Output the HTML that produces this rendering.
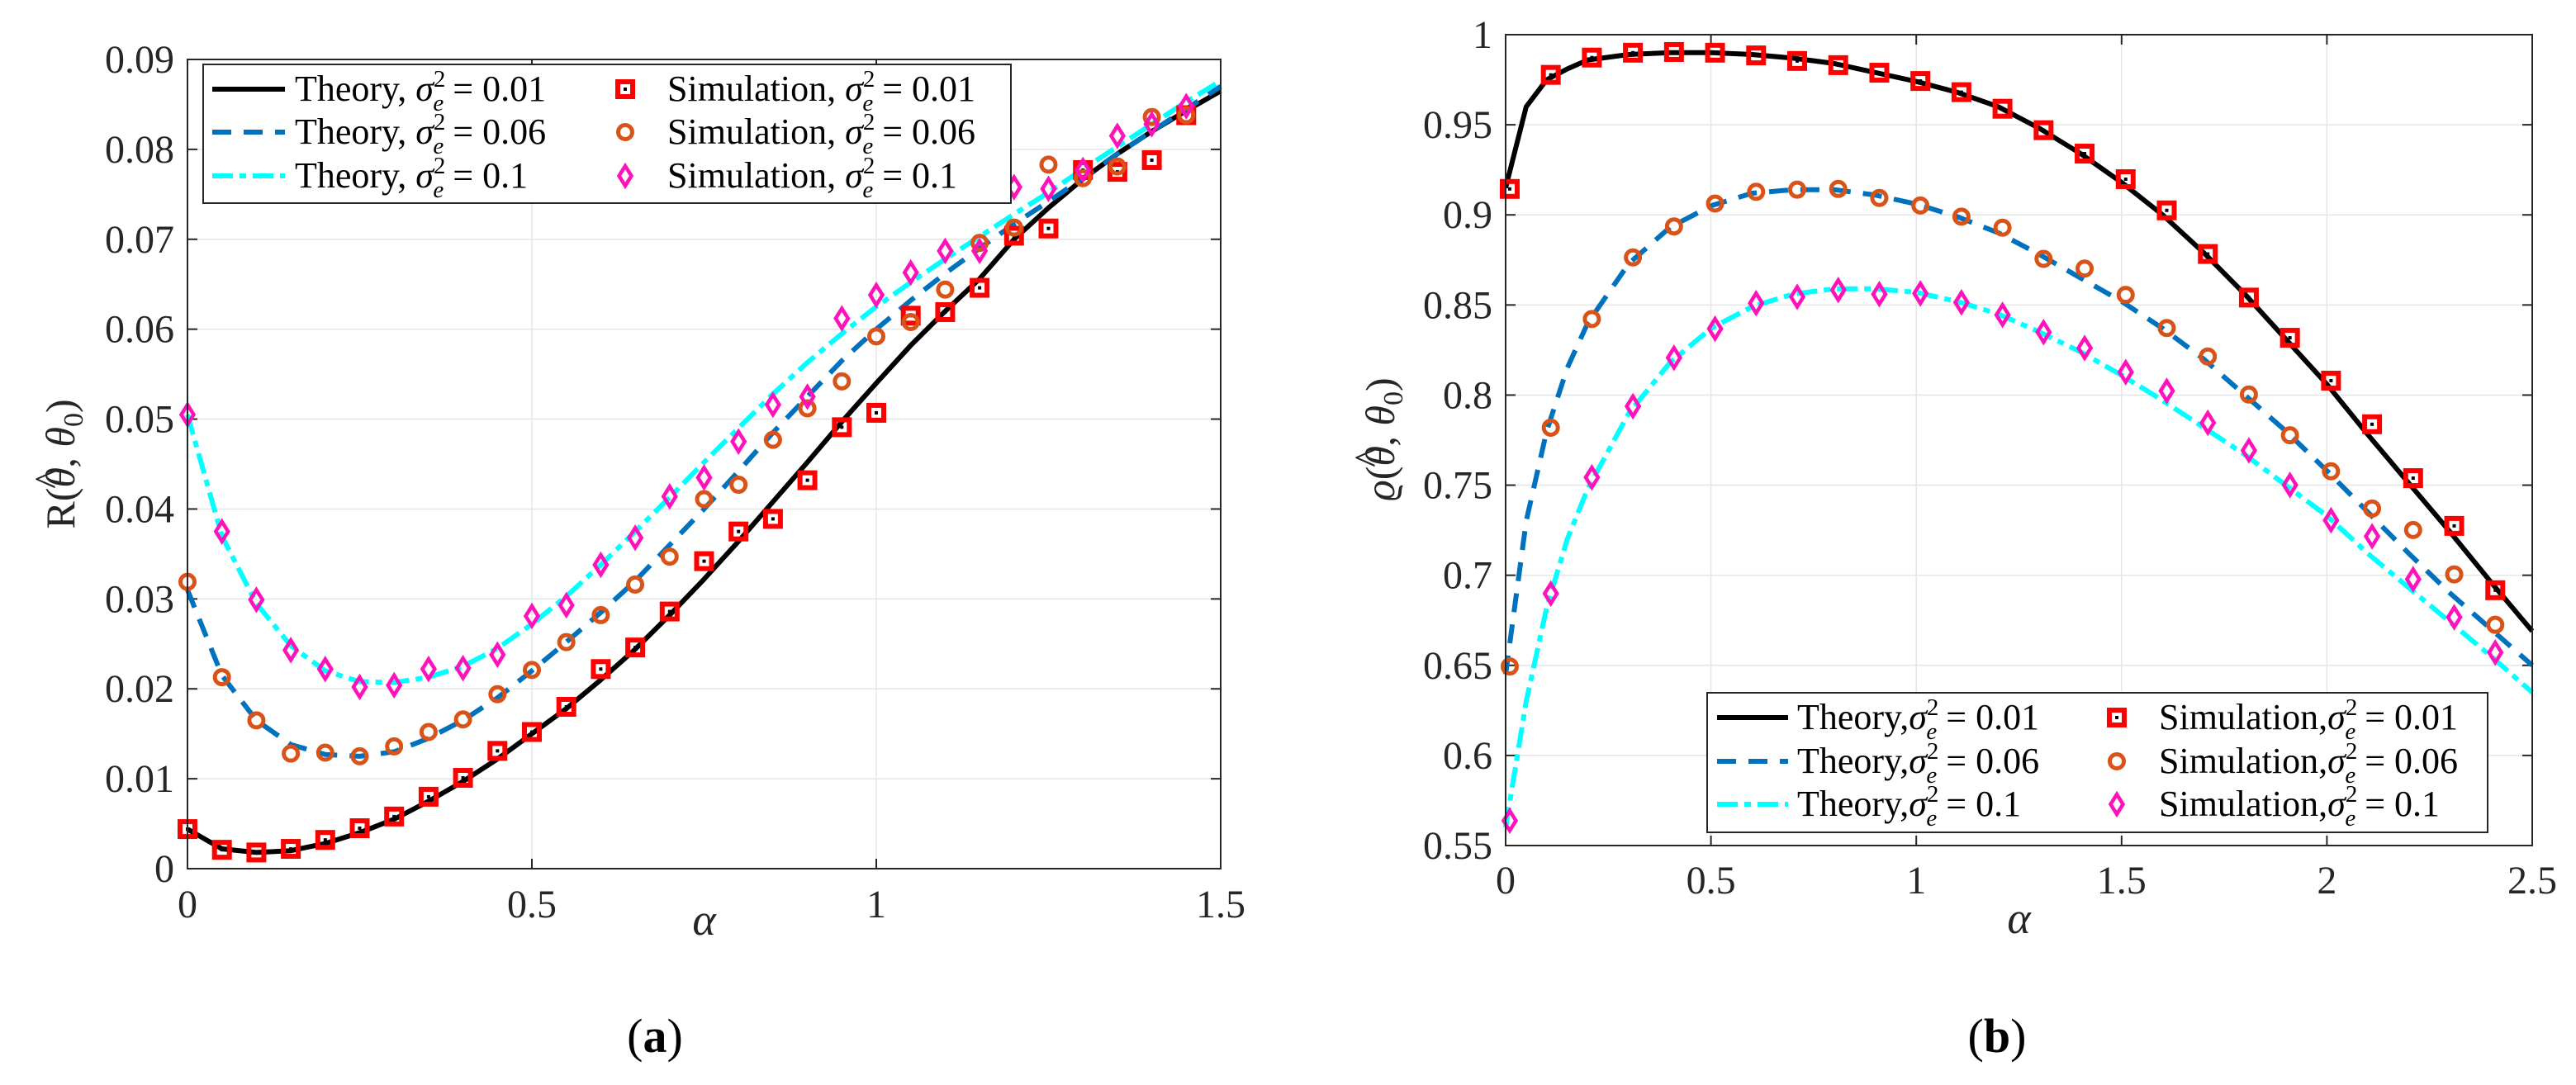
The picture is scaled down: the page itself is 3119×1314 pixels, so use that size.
<!DOCTYPE html>
<html><head><meta charset="utf-8"><style>
html,body{margin:0;padding:0;background:#fff;}
svg{display:block;}
svg text{font-family:"Liberation Serif","DejaVu Serif",serif;}
</style></head><body>
<svg id="fig" width="3119" height="1314" viewBox="0 0 3119 1314" xmlns="http://www.w3.org/2000/svg" font-family="Liberation Serif, serif"></svg>
<script>
// ---------- Panel (a) data ----------
const aSimX = [0,0.05,0.1,0.15,0.2,0.25,0.3,0.35,0.4,0.45,0.5,0.55,0.6,0.65,0.7,0.75,0.8,0.85,0.9,0.95,1.0,1.05,1.1,1.15,1.2,1.25,1.3,1.35,1.4,1.45];
const aSim001 = [0.0044,0.0021,0.0018,0.0022,0.0032,0.0045,0.0058,0.008,0.0101,0.0131,0.0152,0.018,0.0222,0.0246,0.0286,0.0342,0.0375,0.0389,0.0432,0.0491,0.0507,0.0615,0.0619,0.0646,0.0704,0.0712,0.0777,0.0775,0.0788,0.0838];
const aSim006 = [0.0319,0.0213,0.0165,0.0128,0.0129,0.0125,0.0136,0.0152,0.0166,0.0194,0.0221,0.0252,0.0282,0.0316,0.0347,0.0411,0.0427,0.0477,0.0512,0.0542,0.0592,0.0608,0.0644,0.0696,0.0713,0.0783,0.0768,0.0781,0.0836,0.0838];
const aSim01 = [0.0505,0.0375,0.0299,0.0243,0.0222,0.0202,0.0204,0.0222,0.0223,0.0238,0.0281,0.0293,0.0338,0.0368,0.0414,0.0435,0.0475,0.0516,0.0525,0.0612,0.0638,0.0663,0.0687,0.0687,0.0758,0.0756,0.0777,0.0815,0.0828,0.0848];
const aThX = [0,0.05,0.1,0.15,0.2,0.25,0.3,0.35,0.4,0.45,0.5,0.55,0.6,0.65,0.7,0.75,0.8,0.85,0.9,0.95,1.0,1.05,1.1,1.15,1.2,1.25,1.3,1.35,1.4,1.45,1.5];
const aTh001 = [0.0044,0.0022,0.0018,0.002,0.0028,0.004,0.0055,0.0075,0.0097,0.0122,0.015,0.0178,0.021,0.0244,0.0282,0.0322,0.0364,0.0408,0.0452,0.0497,0.054,0.0582,0.062,0.0656,0.070,0.0735,0.0767,0.0795,0.082,0.0843,0.0865];
const aTh006 = [0.031,0.0215,0.0165,0.0138,0.0127,0.0125,0.013,0.0145,0.0165,0.019,0.022,0.0252,0.0285,0.032,0.036,0.040,0.0442,0.0485,0.0525,0.0565,0.06,0.0632,0.0662,0.069,0.0717,0.0742,0.0768,0.0795,0.082,0.0845,0.087];
const aTh01 = [0.0505,0.037,0.0295,0.0248,0.022,0.0208,0.0207,0.0213,0.0225,0.0245,0.0272,0.0303,0.0338,0.0375,0.0413,0.0452,0.049,0.0528,0.0563,0.0595,0.0625,0.0652,0.0678,0.0703,0.0728,0.0752,0.0778,0.0803,0.0828,0.0853,0.0876];
const aXTicks = [0,0.5,1,1.5];
const aXTickLabels = ["0","0.5","1","1.5"];
const aYTicks = [0,0.01,0.02,0.03,0.04,0.05,0.06,0.07,0.08,0.09];
const aYTickLabels = ["0","0.01","0.02","0.03","0.04","0.05","0.06","0.07","0.08","0.09"];
// ---------- Panel (b) data ----------
const bSimX = [0.01,0.11,0.21,0.31,0.41,0.51,0.61,0.71,0.81,0.91,1.01,1.11,1.21,1.31,1.41,1.51,1.61,1.71,1.81,1.91,2.01,2.11,2.21,2.31,2.41];
const bSim001 = [0.9144,0.9777,0.9873,0.99,0.9904,0.99,0.9885,0.9854,0.9831,0.9789,0.9743,0.9681,0.9589,0.947,0.934,0.9198,0.9025,0.8783,0.8541,0.8318,0.808,0.7838,0.7539,0.7274,0.6917];
const bSim006 = [0.6494,0.7819,0.8422,0.8764,0.8936,0.9063,0.9128,0.914,0.9144,0.9094,0.9052,0.899,0.8929,0.8756,0.8702,0.8556,0.8372,0.8214,0.8003,0.7777,0.7577,0.737,0.7251,0.7005,0.6725];
const bSim01 = [0.5638,0.6898,0.7543,0.7938,0.8207,0.8368,0.851,0.8545,0.8583,0.856,0.8564,0.8514,0.8445,0.8349,0.8261,0.8127,0.8023,0.7846,0.7693,0.7501,0.7305,0.7216,0.6978,0.6767,0.6571];
const bThX = [0,0.05,0.1,0.15,0.2,0.3,0.4,0.5,0.6,0.7,0.8,0.9,1.0,1.1,1.2,1.3,1.4,1.5,1.6,1.7,1.8,1.9,2.0,2.1,2.2,2.3,2.4,2.5];
const bTh001 = [0.915,0.96,0.975,0.981,0.986,0.989,0.99,0.99,0.989,0.987,0.984,0.979,0.974,0.968,0.96,0.948,0.934,0.918,0.9,0.879,0.856,0.831,0.806,0.778,0.751,0.724,0.696,0.669];
const bTh006 = [0.645,0.73,0.78,0.815,0.84,0.873,0.893,0.905,0.912,0.914,0.914,0.911,0.906,0.899,0.89,0.878,0.865,0.852,0.837,0.82,0.8,0.78,0.758,0.735,0.712,0.69,0.67,0.65];
const bTh01 = [0.56,0.63,0.682,0.72,0.748,0.79,0.818,0.837,0.849,0.856,0.859,0.859,0.857,0.852,0.845,0.835,0.824,0.811,0.797,0.782,0.767,0.75,0.733,0.712,0.693,0.674,0.655,0.635];
const bXTicks = [0,0.5,1,1.5,2,2.5];
const bXTickLabels = ["0","0.5","1","1.5","2","2.5"];
const bYTicks = [0.55,0.6,0.65,0.7,0.75,0.8,0.85,0.9,0.95,1];
const bYTickLabels = ["0.55","0.6","0.65","0.7","0.75","0.8","0.85","0.9","0.95","1"];

const NS = "http://www.w3.org/2000/svg";
const svg = document.getElementById("fig");
const SERIF = '"Liberation Serif", "DejaVu Serif", serif';
function mk(tag, attrs, parent){
  const e = document.createElementNS(NS, tag);
  for (const k in attrs) e.setAttribute(k, attrs[k]);
  if (tag === "text") e.style.fontFamily = SERIF;
  (parent||svg).appendChild(e);
  return e;
}
const BLACK="#000", BLUE="#0072BD", CYAN="#00FFFF", RED="#FF0000", ORANGE="#D95319", MAG="#FF11BB";

function marker(g, type, x, y){
  if (type==="sq"){
    const r = mk("rect",{x:x-9,y:y-9,width:18,height:18,fill:"none",stroke:RED,"stroke-width":6},g);
    mk("rect",{x:x-2,y:y-2,width:4,height:4,fill:"#000"},g);
    return r;
  } else if (type==="ci"){
    return mk("circle",{cx:x,cy:y,r:8.5,fill:"none",stroke:ORANGE,"stroke-width":5},g);
  } else {
    return mk("path",{d:`M${x},${y-12} L${x+7.5},${y} L${x},${y+12} L${x-7.5},${y} Z`,fill:"none",stroke:MAG,"stroke-width":4.5},g);
  }
}

function legendLabel(g, x, y, prefix, val){
  const t = mk("text",{x:x,y:y,"font-size":44,fill:"#000"},g);
  const a = mk("tspan",{},t); a.textContent = prefix;
  const s = mk("tspan",{"font-style":"italic"},t); s.textContent = "σ";
  const sup = mk("tspan",{dy:-17,"font-size":29},t); sup.textContent = "2";
  const sub = mk("tspan",{dx:-15,dy:29,"font-size":29,"font-style":"italic"},t); sub.textContent = "e";
  const rest = mk("tspan",{dy:-12},t); rest.textContent = " = " + val;
  return t;
}

function panel(cfg){
  const g = mk("g",{});
  
  
  const L=cfg.L,R=cfg.R,T=cfg.T,B=cfg.B;
  const sx = v => L + (v-cfg.xmin)/(cfg.xmax-cfg.xmin)*(R-L);
  const sy = v => B - (v-cfg.ymin)/(cfg.ymax-cfg.ymin)*(B-T);
  mk("rect",{x:L,y:T,width:R-L,height:B-T,fill:"#fff"},g);
  const grid = mk("g",{stroke:"#e5e5e5","stroke-width":1.5},g);
  
  
  cfg.xt.forEach(v=>{ mk("line",{x1:sx(v),x2:sx(v),y1:T,y2:B},grid); });
  cfg.yt.forEach(v=>{ mk("line",{x1:L,x2:R,y1:sy(v),y2:sy(v)},grid); });
  const tk = mk("g",{stroke:"#262626","stroke-width":2},g);
  cfg.xt.forEach(v=>{ mk("line",{x1:sx(v),x2:sx(v),y1:B,y2:B-12},tk); mk("line",{x1:sx(v),x2:sx(v),y1:T,y2:T+12},tk); });
  cfg.yt.forEach(v=>{ mk("line",{x1:L,x2:L+12,y1:sy(v),y2:sy(v)},tk); mk("line",{x1:R,x2:R-12,y1:sy(v),y2:sy(v)},tk); });
  cfg.xt.forEach((v,i)=>{
    const t = mk("text",{x:sx(v),y:cfg.xlabY,"text-anchor":"middle","font-size":48,fill:"#262626"},g);
    t.textContent = cfg.xtl[i];
    
    
  });
  cfg.yt.forEach((v,i)=>{
    const t = mk("text",{x:L-16,y:sy(v)+16,"text-anchor":"end","font-size":48,fill:"#262626"},g);
    t.textContent = cfg.ytl[i];
    
    
  });
  const lineDefs = [
    {y:cfg.th[0],c:BLACK,d:null,n:"theory-line-0.01"},
    {y:cfg.th[1],c:BLUE,d:"23 15",n:"theory-line-0.06"},
    {y:cfg.th[2],c:CYAN,d:"25 8 8 8",n:"theory-line-0.1"}];
  lineDefs.forEach(ld=>{
    const d = cfg.thX.map((x,i)=>(i?"L":"M")+sx(x).toFixed(1)+","+sy(ld.y[i]).toFixed(1)).join(" ");
    const p = mk("path",{d:d,fill:"none",stroke:ld.c,"stroke-width":6,"stroke-linejoin":"round"},g);
    if (ld.d) p.setAttribute("stroke-dasharray", ld.d);
    
    
  });
  const mt = ["sq","ci","di"], mn=["sim-marker-0.01","sim-marker-0.06","sim-marker-0.1"];
  cfg.sim.forEach((ser,k)=>{
    const mg = mk("g",{},g);
    
    
    cfg.simX.forEach((x,i)=>{
      const m = marker(mg, mt[k], sx(x), sy(ser[i]));
      
      
    });
  });
  mk("rect",{x:L,y:T,width:R-L,height:B-T,fill:"none",stroke:"#262626","stroke-width":2},g);
  const lg = mk("g",{},g);
  
  
  const Lg = cfg.leg;
  mk("rect",{x:Lg.x,y:Lg.y,width:Lg.w,height:Lg.h,fill:"#fff",stroke:"#262626","stroke-width":2},lg);
  const vals=["0.01","0.06","0.1"];
  lineDefs.forEach((ld,i)=>{
    const y = Lg.rows[i];
    const l = mk("line",{x1:Lg.lx1,x2:Lg.lx2,y1:y,y2:y,stroke:ld.c,"stroke-width":6},lg);
    if (ld.d) l.setAttribute("stroke-dasharray", ld.d);
    
    
    const t = legendLabel(lg, Lg.tx, y+14, Lg.thPrefix, vals[i]);
    
    
    const m = marker(lg, mt[i], Lg.mx, y);
    
    
    const t2 = legendLabel(lg, Lg.sx, y+14, Lg.simPrefix, vals[i]);
    
    
  });
  const xl = mk("text",{x:(L+R)/2,y:cfg.axY,"text-anchor":"middle","font-size":54,"font-style":"italic",fill:"#262626"},g);
  xl.textContent = "α";
  
  
  const yl = mk("text",{x:0,y:0,"text-anchor":"middle","font-size":50,fill:"#262626",transform:`translate(${cfg.ylX},${cfg.ylY}) rotate(-90)`},g);
  const y1 = mk("tspan",{"font-style":cfg.yItalic?"italic":"normal"},yl); y1.textContent = cfg.yName;
  const y2 = mk("tspan",{},yl); y2.textContent = "(";
  const y3 = mk("tspan",{"font-style":"italic"},yl); y3.textContent = "θ";
  const yh = mk("tspan",{dx:-26,dy:-14,"font-size":50},yl); yh.textContent = "^";
  const y4 = mk("tspan",{dx:2,dy:14},yl); y4.textContent = ", ";
  const y5 = mk("tspan",{"font-style":"italic"},yl); y5.textContent = "θ";
  const y6 = mk("tspan",{dy:10,"font-size":34},yl); y6.textContent = "0";
  const y7 = mk("tspan",{dy:-10},yl); y7.textContent = ")";
  
  
  const cap = mk("text",{x:cfg.capX,y:1274,"text-anchor":"middle","font-size":58,fill:"#000"},g);
  const c1 = mk("tspan",{},cap); c1.textContent="(";
  const c2 = mk("tspan",{"font-weight":"bold"},cap); c2.textContent=cfg.cap;
  const c3 = mk("tspan",{},cap); c3.textContent=")";
  
  
}

panel({name:"panel-a-chart",L:227,R:1478,T:72,B:1052,xmin:0,xmax:1.5,ymin:0,ymax:0.09,
  xt:aXTicks,xtl:aXTickLabels,yt:aYTicks,ytl:aYTickLabels,xlabY:1111,axY:1132,
  thX:aThX,th:[aTh001,aTh006,aTh01],simX:aSimX,sim:[aSim001,aSim006,aSim01],
  leg:{x:246,y:78,w:978,h:168,rows:[108,160,213],lx1:257,lx2:345,tx:357,mx:757,sx:808,thPrefix:"Theory, ",simPrefix:"Simulation, "},
  ylX:90,ylY:562,yName:"R",yItalic:false,capX:793,cap:"a"});
panel({name:"panel-b-chart",L:1823,R:3066,T:42,B:1024,xmin:0,xmax:2.5,ymin:0.55,ymax:1,
  xt:bXTicks,xtl:bXTickLabels,yt:bYTicks,ytl:bYTickLabels,xlabY:1082,axY:1130,
  thX:bThX,th:[bTh001,bTh006,bTh01],simX:bSimX,sim:[bSim001,bSim006,bSim01],
  leg:{x:2067,y:839,w:945,h:169,rows:[869,922,974],lx1:2079,lx2:2165,tx:2176,mx:2563,sx:2614,thPrefix:"Theory,",simPrefix:"Simulation,"},
  ylX:1688,ylY:532,yName:"ϱ",yItalic:true,capX:2418,cap:"b"});
</script>
</body></html>
